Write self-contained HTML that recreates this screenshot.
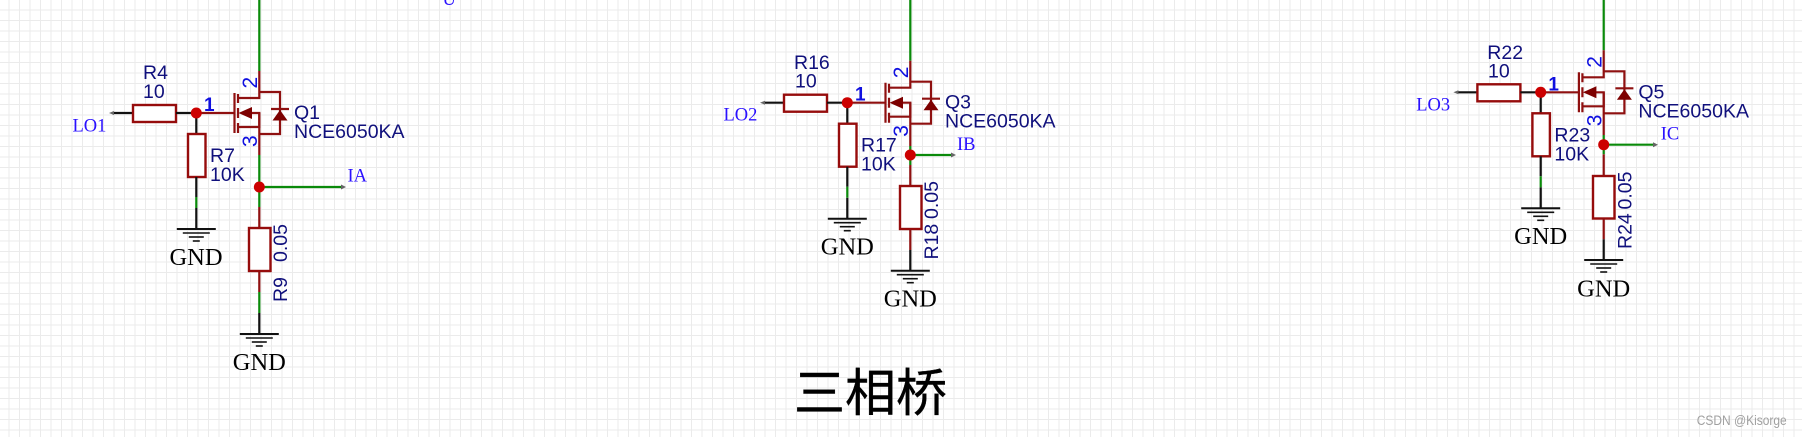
<!DOCTYPE html>
<html><head><meta charset="utf-8">
<style>
html,body{margin:0;padding:0;background:#fff}
svg{display:block}
.s{font-family:"Liberation Sans",sans-serif;font-size:19.5px;fill:#10107c}
.n{font-family:"Liberation Serif",serif;font-size:18.5px;fill:#2a10ff}
.g{font-family:"Liberation Serif",serif;font-size:24.5px;fill:#000;text-anchor:middle}
.p{font-family:"Liberation Sans",sans-serif;font-size:19px;font-weight:bold;fill:#1010e0}
.pb{font-family:"Liberation Sans",sans-serif;font-size:21px;fill:#1010e0}
.r{stroke:#8f1010;stroke-width:2.2;fill:none}
.b{stroke:#111;stroke-width:2.2;fill:none}
.w{stroke:#0a8a0a;stroke-width:2.2;fill:none}
.box{stroke:#960c0c;stroke-width:2.4;fill:#fff}
</style></head><body>
<svg width="1802" height="437" viewBox="0 0 1802 437" xmlns="http://www.w3.org/2000/svg">
<defs>
<pattern id="grid" x="8.5" y="9.5" width="10.5" height="10.5" patternUnits="userSpaceOnUse">
<path d="M0 0V10.5M0 0H10.5" stroke="#ebebeb" stroke-width="2" fill="none"/>
</pattern>
<g id="gnd">
<path d="M-19.5 0H19.5" stroke="#111" stroke-width="2"/>
<path d="M-13.5 4H13.5" stroke="#111" stroke-width="1.6"/>
<path d="M-7.5 8H7.5" stroke="#111" stroke-width="1.6"/>
<path d="M-3.5 12H3.5" stroke="#111" stroke-width="1.6"/>
</g>
<g id="fet">
<path class="w" d="M259.3 -30V71"/>
<path class="r" d="M259.3 71V98H238M259.3 92H280V134H259.3M234.5 93V133M238 94V103M238 108V118M238 123V133M238 127H259.3V113H250M271 109H289M196 113H234"/>
<path d="M238.5 113L252 107V119Z" fill="#7d0000"/>
<path d="M280 110L287.5 120.5H272.5Z" fill="#7d0000"/>
<path class="b" d="M112 113H176"/>
<path d="M109 113L114 111V115Z" fill="#666"/>
<rect class="box" x="133" y="105" width="43" height="17"/>
<path class="b" d="M176 113H196M196.3 113V134"/>
<rect class="box" x="188" y="134" width="17.5" height="43"/>
<path class="b" d="M196.3 177V197M196.3 208V229"/>
<path class="w" d="M196.3 197V208"/>
<circle cx="196.3" cy="113" r="5.5" fill="#cc0000"/>
<use href="#gnd" x="196.3" y="229"/>
</g>
</defs>
<rect width="1802" height="437" fill="#fff"/>
<rect width="1802" height="437" fill="url(#grid)"/>

<text class="n" x="442.5" y="5">U</text>

<!-- Circuit 1 -->
<use href="#fet"/>
<path class="r" d="M259.3 113V155"/>
<path class="w" d="M259.3 155V207M259.3 187H343"/>
<path d="M346 187L341 184.5V189.5Z" fill="#666"/>
<path class="r" d="M259.3 207V228"/>
<rect class="box" x="249" y="228" width="21.5" height="43"/>
<path class="r" d="M259.3 271V292"/>
<path class="w" d="M259.3 292V313"/>
<path class="b" d="M259.3 313V334"/>
<circle cx="259.3" cy="187" r="5.5" fill="#cc0000"/>
<use href="#gnd" x="259.3" y="334"/>
<text class="s" x="143" y="79">R4</text>
<text class="s" x="143" y="98">10</text>
<text class="s" x="210" y="162">R7</text>
<text class="s" x="210" y="181">10K</text>
<text class="s" x="294" y="119">Q1</text>
<text class="s" x="294" y="138">NCE6050KA</text>
<text class="p" x="204" y="111">1</text>
<text class="pb" transform="translate(257 88.5) rotate(-90)">2</text>
<text class="pb" transform="translate(257 147) rotate(-90)">3</text>
<text class="n" x="72.5" y="131.5">LO1</text>
<text class="n" x="347.5" y="181.5">IA</text>
<text class="g" x="196" y="265">GND</text>
<text class="g" x="259.3" y="370">GND</text>
<text class="s" transform="translate(287 262) rotate(-90)">0.05</text>
<text class="s" transform="translate(287 302) rotate(-90)">R9</text>

<!-- Circuit 2 -->
<use href="#fet" transform="translate(651 -10.3)"/>
<path class="r" d="M910.3 102.7V146"/>
<path class="w" d="M910.3 146V165M910.3 155H953"/>
<path d="M956 155L951 152.5V157.5Z" fill="#666"/>
<path class="r" d="M910.3 165V186"/>
<rect class="box" x="900" y="186" width="21.5" height="43"/>
<path class="r" d="M910.3 229V250"/>
<path class="b" d="M910.3 250V270.7"/>
<circle cx="910.3" cy="155" r="5.5" fill="#cc0000"/>
<use href="#gnd" x="910.3" y="270.7"/>
<text class="s" x="794" y="69">R16</text>
<text class="s" x="795" y="87.7">10</text>
<text class="s" x="861" y="151.7">R17</text>
<text class="s" x="861" y="170.7">10K</text>
<text class="s" x="945" y="108.7">Q3</text>
<text class="s" x="945" y="127.7">NCE6050KA</text>
<text class="p" x="855" y="100.7">1</text>
<text class="pb" transform="translate(908 78.2) rotate(-90)">2</text>
<text class="pb" transform="translate(908 136.7) rotate(-90)">3</text>
<text class="n" x="723.5" y="120.5">LO2</text>
<text class="n" x="957" y="150">IB</text>
<text class="g" x="847.3" y="254.5">GND</text>
<text class="g" x="910.3" y="306.7">GND</text>
<text class="s" transform="translate(938 219) rotate(-90)">0.05</text>
<text class="s" transform="translate(938 259.5) rotate(-90)">R18</text>

<!-- Circuit 3 -->
<use href="#fet" transform="translate(1344.4 -20.7)"/>
<path class="r" d="M1603.7 92.3V135"/>
<path class="w" d="M1603.7 135V154.3M1603.7 144.7H1655"/>
<path d="M1658 144.7L1653 142.2V147.2Z" fill="#666"/>
<path class="r" d="M1603.7 154.3V176"/>
<rect class="box" x="1593" y="176" width="21.5" height="42.5"/>
<path class="r" d="M1603.7 218.5V239.3"/>
<path class="b" d="M1603.7 239.3V260"/>
<circle cx="1603.7" cy="144.7" r="5.5" fill="#cc0000"/>
<use href="#gnd" x="1603.7" y="260"/>
<text class="s" x="1487.3" y="59">R22</text>
<text class="s" x="1488" y="77.3">10</text>
<text class="s" x="1554.4" y="141.3">R23</text>
<text class="s" x="1554.4" y="160.3">10K</text>
<text class="s" x="1638.4" y="98.3">Q5</text>
<text class="s" x="1638.4" y="117.3">NCE6050KA</text>
<text class="p" x="1548.4" y="90.3">1</text>
<text class="pb" transform="translate(1601.4 67.8) rotate(-90)">2</text>
<text class="pb" transform="translate(1601.4 126.3) rotate(-90)">3</text>
<text class="n" x="1416.2" y="110.5">LO3</text>
<text class="n" x="1660.7" y="139.3">IC</text>
<text class="g" x="1540.7" y="244">GND</text>
<text class="g" x="1603.7" y="296.7">GND</text>
<text class="s" transform="translate(1631.7 209.5) rotate(-90)">0.05</text>
<text class="s" transform="translate(1631.7 249) rotate(-90)">R24</text>

<text x="794" y="411" style="font-family:'Liberation Sans','Noto Sans CJK SC',sans-serif;font-size:51px;fill:#000;stroke:#000;stroke-width:0.4">三相桥</text>
<text x="1696.7" y="425" style="font-family:'Liberation Sans',sans-serif;font-size:13.5px;fill:#a0a0a0" textLength="90" lengthAdjust="spacingAndGlyphs">CSDN @Kisorge</text>
</svg>
</body></html>
